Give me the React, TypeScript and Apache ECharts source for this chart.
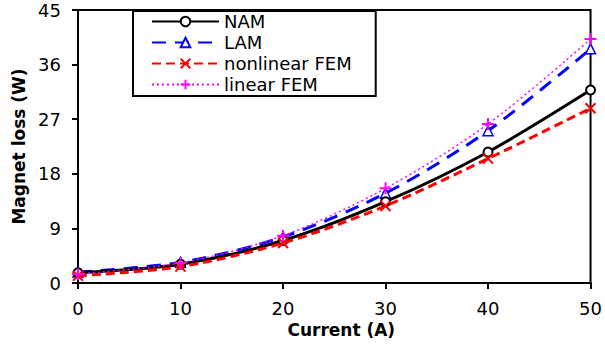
import React, { useEffect, useRef } from "react";
import * as echarts from "echarts";

const currents = [0, 10, 20, 30, 40, 50];
const nam = [1.7, 3.1, 7.0, 13.4, 21.6, 31.8];
const lam = [1.8, 3.4, 7.6, 14.8, 25.1, 38.6];
const nonlinearFem = [1.2, 2.7, 6.6, 12.7, 20.5, 28.8];
const linearFem = [1.5, 3.3, 7.8, 15.6, 26.2, 40.2];

const FONT = "DejaVu Sans, Arial, sans-serif";

const pairs = (ys: number[]) => currents.map((x, i) => [x, ys[i]]);

export default function App() {
  const ref = useRef<HTMLDivElement>(null);
  useEffect(() => {
    if (!ref.current) return;
    const chart = echarts.init(ref.current, undefined, { renderer: "svg" });
    chart.setOption({
      animation: false,
      backgroundColor: "#fff",
      grid: {
        left: 78,
        right: 10,
        top: 10,
        bottom: 62,
        show: true,
        borderColor: "#000",
        borderWidth: 2,
      },
      legend: {
        orient: "vertical",
        left: 133,
        top: 11,
        padding: [1, 24, 2, 18],
        borderColor: "#000",
        borderWidth: 2,
        itemWidth: 67,
        itemHeight: 12,
        itemGap: 2,
        textStyle: { fontFamily: FONT, fontSize: 18, lineHeight: 19, color: "#000" },
        data: ["NAM", "LAM", "nonlinear FEM", "linear FEM"],
      },
      xAxis: {
        type: "value",
        min: 0,
        max: 50,
        interval: 10,
        name: "Current (A)",
        nameLocation: "middle",
        nameGap: 33,
        nameTextStyle: {
          fontFamily: FONT,
          fontSize: 17,
          fontWeight: "bold",
          color: "#000",
          padding: [0, 0, 0, 14],
        },
        axisLine: { lineStyle: { color: "#000", width: 2 } },
        axisTick: { show: true, inside: false, length: 6, lineStyle: { color: "#000", width: 2 } },
        axisLabel: { fontFamily: FONT, fontSize: 18, color: "#000", margin: 16 },
        splitLine: { show: false },
      },
      yAxis: {
        type: "value",
        min: 0,
        max: 45,
        interval: 9,
        name: "Magnet loss (W)",
        nameLocation: "middle",
        nameGap: 48,
        nameTextStyle: { fontFamily: FONT, fontSize: 17, fontWeight: "bold", color: "#000" },
        axisLine: { lineStyle: { color: "#000", width: 2 } },
        axisTick: { show: true, inside: false, length: 6, lineStyle: { color: "#000", width: 2 } },
        axisLabel: { fontFamily: FONT, fontSize: 18, color: "#000", margin: 17 },
        splitLine: { show: false },
      },
      series: [
        {
          name: "NAM",
          type: "line",
          smooth: 0.3,
          data: pairs(nam),
          symbol: "emptyCircle",
          symbolSize: 9,
          showAllSymbol: true,
          lineStyle: { color: "#000", width: 3 },
          itemStyle: { color: "#000", borderWidth: 1.5 },
          z: 4,
        },
        {
          name: "LAM",
          type: "line",
          smooth: 0.3,
          data: pairs(lam),
          symbol: "triangle",
          symbolSize: 10,
          lineStyle: { color: "#0000ff", width: 3, type: [14, 9] },
          itemStyle: { color: "#fff", borderColor: "#0000ff", borderWidth: 1.5 },
          z: 3,
        },
        {
          name: "nonlinear FEM",
          type: "line",
          smooth: 0.3,
          data: pairs(nonlinearFem),
          symbol: "path://M0,0L10,10M10,0L0,10",
          symbolSize: 10,
          lineStyle: { color: "#ff0000", width: 3, type: [9, 5] },
          itemStyle: { color: "none", borderColor: "#ff0000", borderWidth: 2 },
          z: 5,
        },
        {
          name: "linear FEM",
          type: "line",
          smooth: 0.3,
          data: pairs(linearFem),
          symbol: "path://M5,0L5,10M0,5L10,5",
          symbolSize: 12,
          lineStyle: { color: "#ff00ff", width: 1.5, type: [2, 3] },
          itemStyle: { color: "none", borderColor: "#ff00ff", borderWidth: 2 },
          z: 6,
        },
      ],
    });
    return () => chart.dispose();
  }, []);
  return (
    <div
      ref={ref}
      style={{ position: "fixed", left: 0, top: 0, width: 605, height: 345 }}
    />
  );
}
